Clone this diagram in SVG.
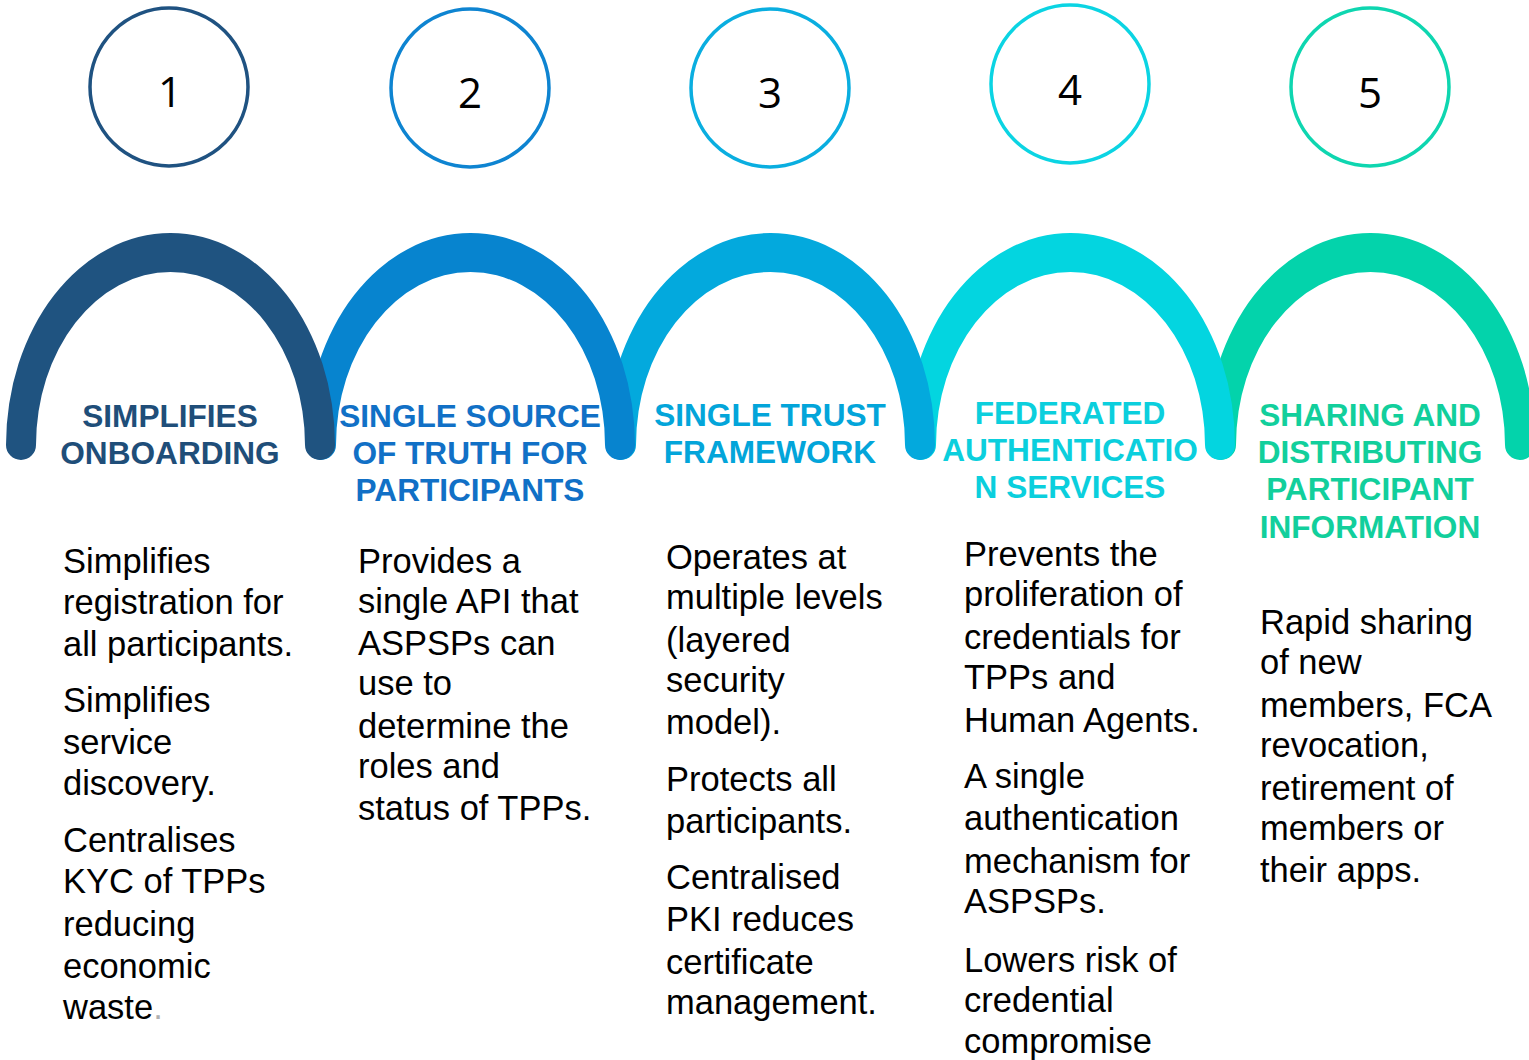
<svg xmlns="http://www.w3.org/2000/svg" xmlns:xlink="http://www.w3.org/1999/xlink" width="1529" height="1060" viewBox="0 0 1529 1060">
  <style>
    .num { font-family: "Open Sans", "Liberation Sans", sans-serif; font-size: 42px; fill: #000; text-anchor: middle; }
    .ring { fill: none; stroke-width: 3.5; }
    .title { font-family: "Liberation Sans", Arial, sans-serif; font-weight: bold; font-size: 31.6px; text-anchor: middle; }
    .body { font-family: "Liberation Sans", Arial, sans-serif; font-size: 34.5px; fill: #000; }
  </style>
  <defs>
    <!-- one arch band: outer half-ellipse, rounded feet, inner half-ellipse -->
    <path id="arch" d="M 6,445 A 164.5,212 0 0 1 335,445 A 15,15 0 0 1 305,445 A 134.5,173 0 0 0 36,445 A 15,15 0 0 1 6,445 Z"/>
  </defs>
  <rect width="1529" height="1060" fill="#fff"/>

  <!-- arches, drawn right to left so each one overlaps its right neighbour -->
  <g id="arches">
    <use xlink:href="#arch" transform="translate(1200,0)" fill="#03D3AB"/>
    <use xlink:href="#arch" transform="translate(900,0)" fill="#03D5E0"/>
    <use xlink:href="#arch" transform="translate(600,0)" fill="#03A9DD"/>
    <use xlink:href="#arch" transform="translate(300,0)" fill="#0784CF"/>
    <use xlink:href="#arch" fill="#1F5380"/>
  </g>

  <g id="step1">
    <circle class="ring" cx="169" cy="87" r="79" stroke="#1F5281"/>
    <text class="num" x="170" y="107">1</text>
    <text class="title" fill="#1F4E79"><tspan x="170" y="427">SIMPLIFIES</tspan><tspan x="170" y="464">ONBOARDING</tspan></text>
    <text class="body">
      <tspan x="63" y="573">Simplifies</tspan>
      <tspan x="63" y="614">registration for</tspan>
      <tspan x="63" y="656">all participants.</tspan>
      <tspan x="63" y="712">Simplifies</tspan>
      <tspan x="63" y="754">service</tspan>
      <tspan x="63" y="795">discovery.</tspan>
      <tspan x="63" y="852">Centralises</tspan>
      <tspan x="63" y="893">KYC of TPPs</tspan>
      <tspan x="63" y="936">reducing</tspan>
      <tspan x="63" y="978">economic</tspan>
      <tspan x="63" y="1019">waste<tspan fill="#B0B0B0">.</tspan></tspan>
    </text>
  </g>

  <g id="step2">
    <circle class="ring" cx="470" cy="88" r="79" stroke="#0E84D1"/>
    <text class="num" x="470" y="108">2</text>
    <text class="title" fill="#1170C6"><tspan x="470" y="427">SINGLE SOURCE</tspan><tspan x="470" y="464">OF TRUTH FOR</tspan><tspan x="470" y="501">PARTICIPANTS</tspan></text>
    <text class="body">
      <tspan x="358" y="573">Provides a</tspan>
      <tspan x="358" y="613">single API that</tspan>
      <tspan x="358" y="655">ASPSPs can</tspan>
      <tspan x="358" y="695">use to</tspan>
      <tspan x="358" y="738">determine the</tspan>
      <tspan x="358" y="778">roles and</tspan>
      <tspan x="358" y="820">status of TPPs.</tspan>
    </text>
  </g>

  <g id="step3">
    <circle class="ring" cx="770" cy="88" r="79" stroke="#0AAEE0"/>
    <text class="num" x="770" y="108">3</text>
    <text class="title" fill="#03A5DA"><tspan x="770" y="426">SINGLE TRUST</tspan><tspan x="770" y="463">FRAMEWORK</tspan></text>
    <text class="body">
      <tspan x="666" y="569">Operates at</tspan>
      <tspan x="666" y="609">multiple levels</tspan>
      <tspan x="666" y="652">(layered</tspan>
      <tspan x="666" y="692">security</tspan>
      <tspan x="666" y="734">model).</tspan>
      <tspan x="666" y="791">Protects all</tspan>
      <tspan x="666" y="833">participants.</tspan>
      <tspan x="666" y="889">Centralised</tspan>
      <tspan x="666" y="931">PKI reduces</tspan>
      <tspan x="666" y="974">certificate</tspan>
      <tspan x="666" y="1014">management.</tspan>
    </text>
  </g>

  <g id="step4">
    <circle class="ring" cx="1070" cy="84" r="79" stroke="#0BD4E3"/>
    <text class="num" x="1070" y="105">4</text>
    <text class="title" fill="#0BCFDD"><tspan x="1070" y="424">FEDERATED</tspan><tspan x="1070" y="461">AUTHENTICATIO</tspan><tspan x="1070" y="498">N SERVICES</tspan></text>
    <text class="body">
      <tspan x="964" y="566">Prevents the</tspan>
      <tspan x="964" y="606">proliferation of</tspan>
      <tspan x="964" y="649">credentials for</tspan>
      <tspan x="964" y="689">TPPs and</tspan>
      <tspan x="964" y="732">Human Agents.</tspan>
      <tspan x="964" y="788">A single</tspan>
      <tspan x="964" y="830">authentication</tspan>
      <tspan x="964" y="873">mechanism for</tspan>
      <tspan x="964" y="913">ASPSPs.</tspan>
      <tspan x="964" y="972">Lowers risk of</tspan>
      <tspan x="964" y="1012">credential</tspan>
      <tspan x="964" y="1053">compromise</tspan>
    </text>
  </g>

  <g id="step5">
    <circle class="ring" cx="1370" cy="87" r="79" stroke="#0ED6B0"/>
    <text class="num" x="1370" y="108">5</text>
    <text class="title" fill="#12CF9C"><tspan x="1370" y="426">SHARING AND</tspan><tspan x="1370" y="463">DISTRIBUTING</tspan><tspan x="1370" y="500">PARTICIPANT</tspan><tspan x="1370" y="538">INFORMATION</tspan></text>
    <text class="body">
      <tspan x="1260" y="634">Rapid sharing</tspan>
      <tspan x="1260" y="674">of new</tspan>
      <tspan x="1260" y="717">members, FCA</tspan>
      <tspan x="1260" y="757">revocation,</tspan>
      <tspan x="1260" y="800">retirement of</tspan>
      <tspan x="1260" y="840">members or</tspan>
      <tspan x="1260" y="882">their apps.</tspan>
    </text>
  </g>
</svg>
